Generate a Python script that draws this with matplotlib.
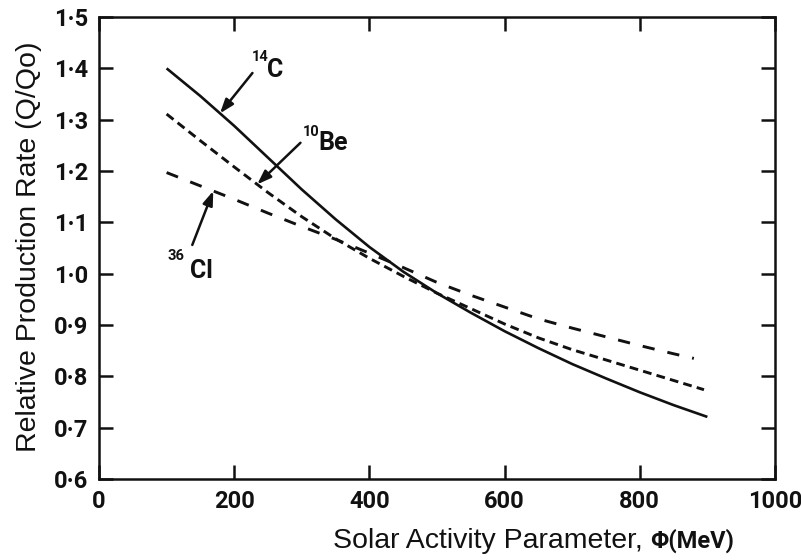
import numpy as np
import matplotlib
matplotlib.use('Agg')
import matplotlib.pyplot as plt
from matplotlib.font_manager import FontProperties

# ---- data ----
phi_c14 = [100, 150, 200, 250, 300, 350, 400, 450, 500, 550, 600, 650, 700, 750, 800, 850, 900]
rate_c14 = [1.400, 1.346, 1.288, 1.226, 1.164, 1.106, 1.052, 1.004, 0.962, 0.924, 0.888,
            0.855, 0.824, 0.796, 0.769, 0.744, 0.721]

phi_be10 = [100, 150, 200, 250, 300, 350, 400, 450, 500, 550, 600, 650, 700, 750, 800, 850, 895]
rate_be10 = [1.311, 1.259, 1.208, 1.158, 1.111, 1.068, 1.030, 0.995, 0.962, 0.932, 0.902,
             0.875, 0.852, 0.832, 0.812, 0.792, 0.774]

phi_cl36 = [100, 150, 200, 250, 300, 350, 400, 450, 500, 550, 600, 650, 700, 750, 800, 850, 880]
rate_cl36 = [1.197, 1.171, 1.145, 1.118, 1.092, 1.067, 1.040, 1.012, 0.983, 0.958, 0.935,
             0.912, 0.894, 0.877, 0.860, 0.844, 0.835]

xticks = [0, 200, 400, 600, 800, 1000]
xtick_labels = ['0', '200', '400', '600', '800', '1000']
yticks = [0.6, 0.7, 0.8, 0.9, 1.0, 1.1, 1.2, 1.3, 1.4, 1.5]
ytick_labels = ['0·6', '0·7', '0·8', '0·9', '1·0', '1·1', '1·2', '1·3', '1·4', '1·5']

xlabel_main = 'Solar Activity Parameter, '
xlabel_unit = 'Φ(MeV)'
ylabel = 'Relative Production Rate (Q/Qo)'

ink = '#111111'
narrow = ['Roboto', 'DejaVu Sans']
sans = ['Liberation Sans', 'DejaVu Sans']
tick_fp = FontProperties(family=narrow, weight='bold', size=17)

fig = plt.figure(figsize=(8.01, 5.6), dpi=100)
ax = fig.add_axes([0.1236, 0.1446, 0.8439, 0.825])

ax.plot(phi_c14, rate_c14, color=ink, lw=1.9, solid_capstyle='butt')
ax.plot(phi_be10, rate_be10, color=ink, lw=2.1, dashes=(3.0, 1.8))
ax.plot(phi_cl36, rate_cl36, color=ink, lw=2.1, dashes=(4.2, 4.5))

ax.set_xlim(0, 1000)
ax.set_ylim(0.6, 1.5)
ax.set_xticks(xticks)
ax.set_xticklabels(xtick_labels, fontproperties=tick_fp)
ax.set_yticks(yticks)
ax.set_yticklabels(ytick_labels, fontproperties=tick_fp)
ax.tick_params(direction='in', top=True, right=True, length=10, width=1.8,
               color=ink, labelcolor=ink)
ax.tick_params(axis='x', pad=8)
ax.tick_params(axis='y', pad=8)
for s in ax.spines.values():
    s.set_linewidth(1.8)
    s.set_color(ink)

# labels on curves
lab_big = FontProperties(family=narrow, weight='bold', size=18)
lab_small = FontProperties(family=narrow, weight='bold', size=10.5)

def iso_label(x_sup, y_sup, sup, x_main, y_main, main):
    ax.text(x_sup, y_sup, sup, fontproperties=lab_small, ha='left', va='bottom', color=ink)
    ax.text(x_main, y_main, main, fontproperties=lab_big, ha='left', va='baseline', color=ink)

iso_label(226, 1.409, '14', 249, 1.384, 'C')
iso_label(301, 1.262, '10', 324, 1.241, 'Be')
iso_label(102, 1.020, '36', 134, 0.992, 'Cl')

arrow_kw = dict(arrowstyle='-|>,head_length=0.7,head_width=0.25', lw=1.8, color=ink,
                shrinkA=0, shrinkB=0, mutation_scale=12)
tip_c = 179
ax.annotate('', xy=(tip_c, np.interp(tip_c, phi_c14, rate_c14)), xytext=(227, 1.391),
            arrowprops=arrow_kw)
tip_b = 234
ax.annotate('', xy=(tip_b, np.interp(tip_b, phi_be10, rate_be10)), xytext=(298, 1.255),
            arrowprops=arrow_kw)
tip_cl = 169
ax.annotate('', xy=(tip_cl, np.interp(tip_cl, phi_cl36, rate_cl36)), xytext=(138, 1.056),
            arrowprops=arrow_kw)

# axis titles
fig.text(0.036, 0.56, ylabel, rotation=90, ha='center', va='center',
         family=sans, size=20.5, color=ink)
split_x = 0.812
fig.text(split_x, 0.022, xlabel_main, ha='right', va='baseline',
         family=sans, size=20.5, color=ink)
fig.text(split_x, 0.022, xlabel_unit, ha='left', va='baseline',
         fontproperties=FontProperties(family=narrow, weight='bold', size=17), color=ink)

fig.savefig('out.png', dpi=100)
